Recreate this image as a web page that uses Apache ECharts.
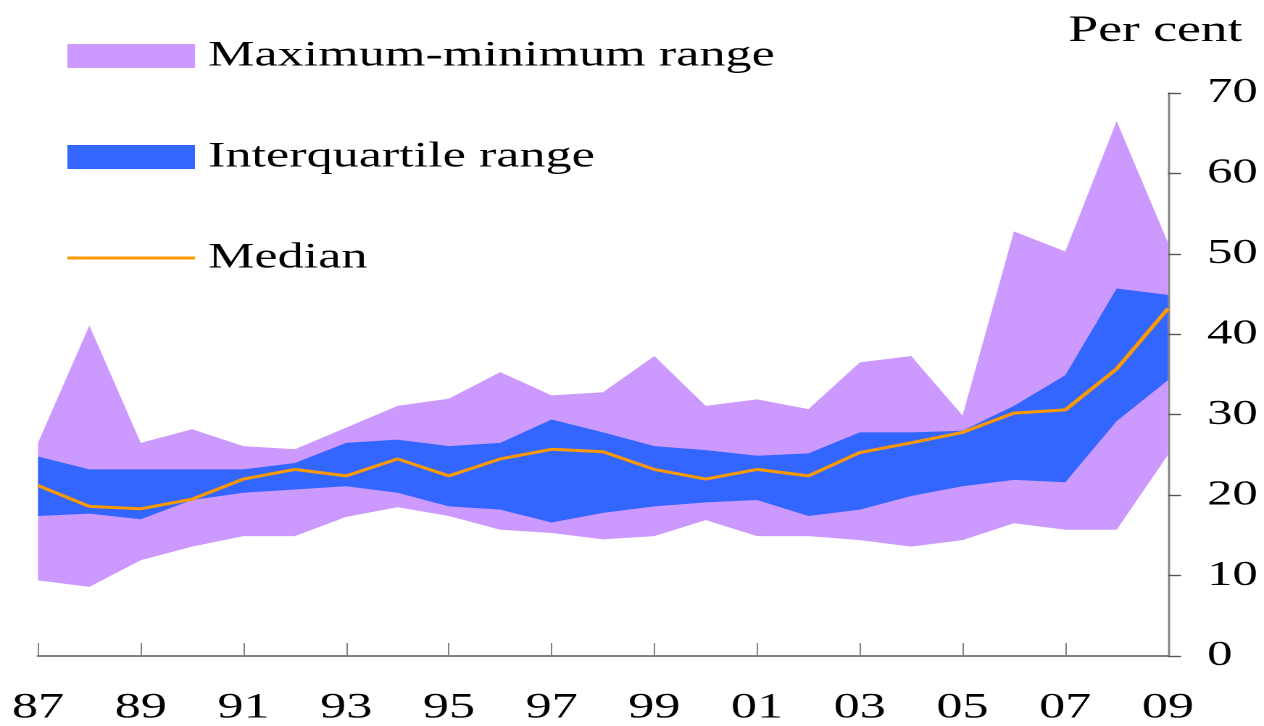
<!DOCTYPE html>
<html>
<head>
<meta charset="utf-8">
<script src="https://cdn.jsdelivr.net/npm/echarts@6/dist/echarts.min.js"></script>
<style>
  html, body { margin: 0; padding: 0; background: #fff; width: 1264px; height: 726px; overflow: hidden; }
  /* the original picture is stretched sideways, so the chart is drawn narrow and widened */
  #chart { position: absolute; left: 0; top: 0; width: 872px; height: 726px; transform: scaleX(1.4495); transform-origin: 0 0; }
</style>
</head>
<body>
<div id="chart"></div>
<script>
// years 1987-2009, tick labels every other year
var years = ['87','88','89','90','91','92','93','94','95','96','97','98','99','00','01','02','03','04','05','06','07','08','09'];

var maxV   = [26.5, 41.1, 26.5, 28.2, 26.1, 25.7, 28.4, 31.1, 32.0, 35.3, 32.4, 32.8, 37.3, 31.1, 31.9, 30.7, 36.5, 37.3, 29.9, 52.8, 50.3, 66.5, 51.4];
var q3     = [24.8, 23.2, 23.2, 23.2, 23.2, 24.0, 26.5, 26.9, 26.1, 26.5, 29.4, 27.8, 26.1, 25.6, 24.9, 25.2, 27.8, 27.8, 28.0, 31.1, 34.9, 45.7, 44.9];
var median = [21.2, 18.6, 18.3, 19.5, 22.0, 23.2, 22.4, 24.5, 22.4, 24.5, 25.7, 25.4, 23.2, 22.0, 23.2, 22.4, 25.3, 26.5, 27.8, 30.2, 30.6, 35.7, 43.2];
var q1     = [17.4, 17.7, 17.0, 19.4, 20.3, 20.7, 21.1, 20.3, 18.6, 18.2, 16.6, 17.8, 18.6, 19.1, 19.4, 17.4, 18.2, 19.9, 21.1, 21.9, 21.6, 29.2, 34.3];
var minV   = [9.4, 8.6, 11.9, 13.6, 14.9, 14.9, 17.3, 18.5, 17.4, 15.7, 15.3, 14.5, 14.9, 16.9, 14.9, 14.9, 14.4, 13.6, 14.4, 16.5, 15.7, 15.7, 25.0];

var yTicks = { min: 0, max: 70, step: 10 };

var font = '"Liberation Serif", "Times New Roman", serif';

// band heights for the stacked areas
function diff(top, bottom) {
  return top.map(function (v, i) { return +(v - bottom[i]).toFixed(2); });
}

var chart = echarts.init(document.getElementById('chart'), null, { devicePixelRatio: 2 });

chart.setOption({
  animation: false,
  title: {
    text: 'Per cent',
    left: 732,
    top: 8,
    textStyle: { fontFamily: font, fontSize: 37, fontWeight: 'normal', color: '#000' }
  },
  legend: {
    orient: 'vertical',
    left: 40,
    top: 33,
    itemWidth: 88,
    itemHeight: 24,
    itemGap: 65,
    selectedMode: false,
    textStyle: { fontFamily: font, fontSize: 36, lineHeight: 34, color: '#000', padding: [0, 0, 0, 4] },
    data: [
      { name: 'Maximum-minimum range', icon: 'rect' },
      { name: 'Interquartile range', icon: 'rect' },
      { name: 'Median', itemStyle: { opacity: 0 }, lineStyle: { width: 3, color: '#FF9900' } }
    ]
  },
  grid: { left: 26.2, right: 66.2, top: 93, bottom: 68 },
  xAxis: {
    type: 'category',
    data: years,
    boundaryGap: false,
    axisLine: { lineStyle: { color: '#808080', width: 2 } },
    axisTick: { inside: true, length: 13, interval: 1, lineStyle: { color: '#808080', width: 1 } },
    axisLabel: { interval: 1, margin: 34, fontFamily: font, fontSize: 36, color: '#000' },
    splitLine: { show: false }
  },
  yAxis: {
    type: 'value',
    position: 'right',
    min: yTicks.min,
    max: yTicks.max,
    interval: yTicks.step,
    axisLine: { show: true, lineStyle: { color: '#808080', width: 1.4 } },
    axisTick: { show: true, inside: false, length: 9, lineStyle: { color: '#555', width: 1.4 } },
    axisLabel: { margin: 27, fontFamily: font, fontSize: 35, color: '#000' },
    splitLine: { show: false }
  },
  series: [
    {
      name: 'minBase', type: 'line', stack: 'mm', data: minV,
      symbol: 'none', silent: true, lineStyle: { opacity: 0 }
    },
    {
      name: 'Maximum-minimum range', type: 'line', stack: 'mm', data: diff(maxV, minV),
      symbol: 'none', silent: true, color: '#CC99FF',
      lineStyle: { opacity: 0 }, areaStyle: { color: '#CC99FF', opacity: 1 }
    },
    {
      name: 'q1Base', type: 'line', stack: 'iq', data: q1,
      symbol: 'none', silent: true, lineStyle: { opacity: 0 }
    },
    {
      name: 'Interquartile range', type: 'line', stack: 'iq', data: diff(q3, q1),
      symbol: 'none', silent: true, color: '#3366FF',
      lineStyle: { opacity: 0 }, areaStyle: { color: '#3366FF', opacity: 1 }
    },
    {
      name: 'Median', type: 'line', data: median,
      symbol: 'none', silent: true, color: '#FF9900',
      lineStyle: { color: '#FF9900', width: 3 }
    }
  ]
});
</script>
</body>
</html>
